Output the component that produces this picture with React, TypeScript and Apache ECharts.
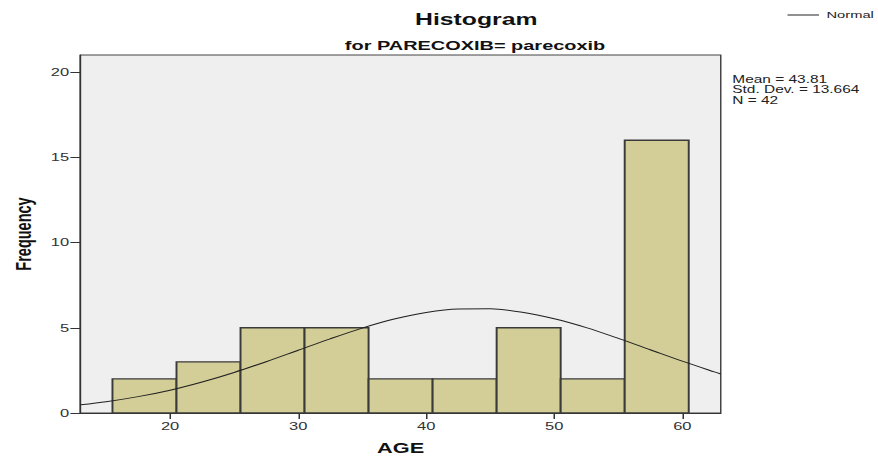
import React, { useEffect, useRef } from "react";
import * as echarts from "echarts";

const binStarts = [15.5, 20.5, 25.5, 30.5, 35.5, 40.5, 45.5, 50.5, 55.5];
const binEnds = [20.5, 25.5, 30.5, 35.5, 40.5, 45.5, 50.5, 55.5, 60.5];
const counts = [2, 3, 5, 5, 2, 2, 5, 2, 16];
const xTicks = [20, 30, 40, 50, 60];
const yTicks = [0, 5, 10, 15, 20];
const curveX = [13, 15, 17.5, 20, 22.5, 25, 27.5, 30, 32.5, 35, 37.5, 40, 42.5, 45, 47.5, 50, 52.5, 55, 57.5, 60, 62.5, 63];
const curveY = [0.48, 0.66, 0.96, 1.34, 1.82, 2.38, 3.01, 3.68, 4.35, 4.98, 5.51, 5.9, 6.1, 6.11, 5.91, 5.53, 5.01, 4.38, 3.71, 3.04, 2.41, 2.29];
const statsLines = ["Mean = 43.81", "Std. Dev. = 13.664", "N = 42"];

const SX = 1.5;
const W = 878 / SX;
const FONT = "'Liberation Sans', Arial, sans-serif";

export default function App() {
  const ref = useRef<HTMLDivElement>(null);
  useEffect(() => {
    if (!ref.current) return;
    const chart = echarts.init(ref.current, undefined, { renderer: "svg" });
    const histData = binStarts.map((s, i) => [s, binEnds[i], counts[i]]);
    const curveData = curveX.map((x, i) => [x, curveY[i]]);
    chart.setOption({
      animation: false,
      textStyle: { fontFamily: FONT },
      grid: {
        left: 52,
        top: 55,
        width: 428.5,
        height: 358,
        show: true,
        backgroundColor: "#efefef",
        borderColor: "#444",
        borderWidth: 1,
      },
      legend: {
        data: ["Normal"],
        left: 525,
        top: 10,
        padding: 0,
        icon: "rect",
        itemWidth: 21,
        itemHeight: 1,
        itemStyle: { color: "#222" },
        textStyle: { fontSize: 9.8, color: "#222", fontFamily: FONT },
      },
      graphic: [
        {
          type: "text",
          x: 317.5,
          y: 19,
          style: {
            text: "Histogram",
            fontSize: 16.5,
            fontWeight: "bold",
            fontFamily: FONT,
            fill: "#111",
            align: "center",
            verticalAlign: "middle",
          },
        },
        {
          type: "text",
          x: 316.7,
          y: 46,
          style: {
            text: "for PARECOXIB= parecoxib",
            fontSize: 13.3,
            fontWeight: "bold",
            fontFamily: FONT,
            fill: "#111",
            align: "center",
            verticalAlign: "middle",
          },
        },
        {
          type: "text",
          x: 488.2,
          y: 74,
          style: {
            text: statsLines.join("\n"),
            fontSize: 10.3,
            lineHeight: 10.5,
            fontFamily: FONT,
            fill: "#222",
            align: "left",
            verticalAlign: "top",
          },
        },
      ],
      xAxis: {
        type: "value",
        min: 13,
        max: 63,
        name: "AGE",
        nameLocation: "middle",
        nameGap: 27,
        nameTextStyle: { fontSize: 14.5, fontWeight: "bold", color: "#111", fontFamily: FONT },
        splitLine: { show: false },
        axisLine: { show: true, onZero: false, lineStyle: { color: "#333", width: 1 } },
        axisTick: { show: true, length: 6, customValues: xTicks, lineStyle: { color: "#333" } },
        axisLabel: { customValues: xTicks, margin: 8, fontSize: 11, color: "#333", fontFamily: FONT },
      },
      yAxis: {
        type: "value",
        min: 0,
        max: 21,
        name: "Frequency",
        nameLocation: "middle",
        nameGap: 30,
        nameTextStyle: { fontSize: 14.5, fontWeight: "bold", color: "#111", fontFamily: FONT },
        splitLine: { show: false },
        axisLine: { show: true, lineStyle: { color: "#333", width: 1 } },
        axisTick: { show: true, length: 6.7, customValues: yTicks, lineStyle: { color: "#333" } },
        axisLabel: { customValues: yTicks, margin: 7.5, fontSize: 11, color: "#333", fontFamily: FONT },
      },
      series: [
        {
          type: "custom",
          name: "Histogram",
          data: histData,
          encode: { x: [0, 1], y: 2 },
          renderItem: (params: any, api: any) => {
            const x0 = api.value(0);
            const x1 = api.value(1);
            const v = api.value(2);
            const p0 = api.coord([x0, 0]);
            const p1 = api.coord([x1, v]);
            return {
              type: "rect",
              shape: { x: p0[0], y: p1[1], width: p1[0] - p0[0], height: p0[1] - p1[1] },
              style: { fill: "#d3ce97", stroke: "#3a3a3a", lineWidth: 1.3 },
            };
          },
          z: 2,
        },
        {
          type: "line",
          name: "Normal",
          data: curveData,
          smooth: 0.3,
          symbol: "none",
          showSymbol: false,
          lineStyle: { color: "#222", width: 1 },
          itemStyle: { color: "#222" },
          clip: true,
          z: 3,
        },
      ],
    });
    return () => chart.dispose();
  }, []);
  return (
    <div style={{ position: "fixed", left: 0, top: 0, width: 878, height: 461, overflow: "hidden", background: "#fff" }}>
      <div
        ref={ref}
        style={{ width: W, height: 461, transform: `scaleX(${SX})`, transformOrigin: "0 0" }}
      />
    </div>
  );
}
